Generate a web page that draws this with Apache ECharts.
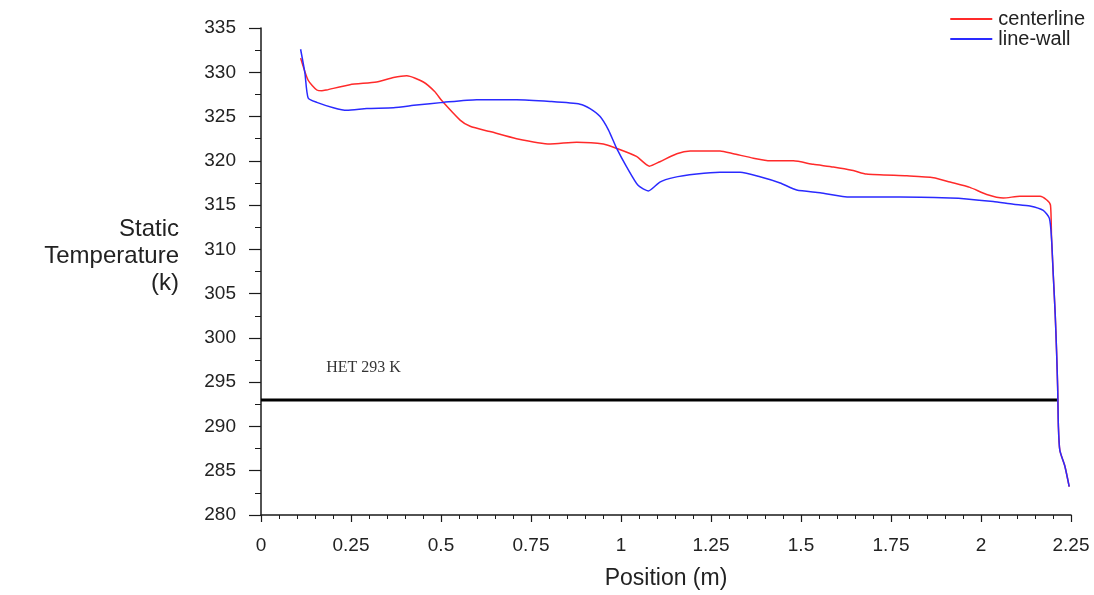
<!DOCTYPE html>
<html>
<head>
<meta charset="utf-8">
<title>Static Temperature</title>
<script src="https://cdn.jsdelivr.net/npm/echarts@6/dist/echarts.min.js"></script>
<style>
  html, body { margin: 0; padding: 0; background: #fff; }
  #chart { width: 1094px; height: 595px; }
</style>
</head>
<body>
<div id="chart"></div>
<script>
// Positions along the pipe (m) and static temperature (K) for each probe line
const centerlinePos = [0.110, 0.131, 0.155, 0.169, 0.182, 0.247, 0.321, 0.368, 0.405, 0.451, 0.483, 0.502, 0.553, 0.581, 0.636, 0.710, 0.803, 0.877, 0.951, 0.988, 1.043, 1.079, 1.108, 1.155, 1.192, 1.275, 1.312, 1.368, 1.414, 1.479, 1.534, 1.590, 1.645, 1.682, 1.794, 1.868, 1.914, 1.969, 2.016, 2.062, 2.108, 2.164, 2.182, 2.193, 2.196, 2.201, 2.206, 2.210, 2.213, 2.215, 2.219, 2.233, 2.245];
const centerlineTemp = [331.6, 329.1, 328.0, 327.9, 328.0, 328.6, 328.9, 329.4, 329.6, 328.9, 327.8, 326.8, 324.6, 323.9, 323.3, 322.5, 321.9, 322.1, 321.9, 321.4, 320.5, 319.4, 319.9, 320.8, 321.1, 321.1, 320.8, 320.3, 320.0, 320.0, 319.6, 319.3, 318.9, 318.5, 318.3, 318.1, 317.6, 317.0, 316.2, 315.8, 316.0, 316.0, 315.6, 315.0, 311.2, 306.9, 302.8, 298.4, 294.3, 290.0, 287.3, 285.5, 283.2];

const wallPos = [0.110, 0.122, 0.131, 0.155, 0.201, 0.238, 0.294, 0.368, 0.432, 0.506, 0.599, 0.710, 0.803, 0.886, 0.914, 0.942, 0.965, 0.988, 1.016, 1.048, 1.076, 1.108, 1.145, 1.210, 1.275, 1.331, 1.386, 1.442, 1.488, 1.553, 1.636, 1.775, 1.914, 1.960, 2.034, 2.090, 2.136, 2.173, 2.190, 2.196, 2.201, 2.206, 2.210, 2.213, 2.215, 2.219, 2.233, 2.245];
const wallTemp = [332.6, 329.9, 327.1, 326.6, 326.0, 325.7, 325.9, 326.0, 326.3, 326.6, 326.9, 326.9, 326.7, 326.4, 325.9, 325.0, 323.5, 321.4, 319.3, 317.2, 316.6, 317.6, 318.1, 318.5, 318.7, 318.7, 318.2, 317.5, 316.7, 316.4, 315.9, 315.9, 315.8, 315.7, 315.4, 315.1, 314.9, 314.4, 313.5, 311.2, 306.9, 302.8, 298.4, 294.3, 290.0, 287.3, 285.5, 283.2];

// Reference temperature line and its caption
const hetPos = [0, 2.211];
const hetTemp = [293, 293];
const hetLabel = 'HET 293 K';
const hetLabelAt = [0.285, 296.6];

const xTicks = { min: 0, max: 2.25, step: 0.25 };
const yTicks = { min: 280, max: 335, step: 5 };

const pairs = (xs, ys) => xs.map((x, i) => [x, ys[i]]);

const sans = 'Arial, "Liberation Sans", sans-serif';
const axisColor = '#1a1a1a';
const textColor = '#222';

const chart = echarts.init(document.getElementById('chart'), null, { renderer: 'canvas' });

chart.setOption({
  animation: false,
  backgroundColor: '#fff',
  grid: { left: 261, right: 23, top: 28, bottom: 80, containLabel: false },
  legend: {
    orient: 'vertical',
    right: 4,
    top: 4,
    itemWidth: 42,
    itemHeight: 2,
    itemGap: 0,
    icon: 'rect',
    data: ['centerline', 'line-wall'],
    textStyle: { fontFamily: sans, fontSize: 20, color: textColor, padding: [0, 0, 0, 1] }
  },
  xAxis: {
    type: 'value',
    min: xTicks.min,
    max: xTicks.max,
    interval: xTicks.step,
    name: 'Position (m)',
    nameLocation: 'middle',
    nameGap: 52,
    nameTextStyle: { fontFamily: sans, fontSize: 23, color: textColor },
    axisLine: { onZero: false, lineStyle: { color: axisColor, width: 1.5 } },
    axisTick: { show: true, length: 7, lineStyle: { color: axisColor, width: 1.2 } },
    minorTick: { show: true, splitNumber: 5, length: 4, lineStyle: { color: axisColor, width: 1 } },
    splitLine: { show: false },
    axisLabel: { margin: 21, fontFamily: sans, fontSize: 19, color: textColor }
  },
  yAxis: {
    type: 'value',
    min: yTicks.min,
    max: yTicks.max,
    interval: yTicks.step,
    axisLine: { show: true, onZero: false, lineStyle: { color: axisColor, width: 1.5 } },
    axisTick: { show: true, length: 12, lineStyle: { color: axisColor, width: 1.2 } },
    minorTick: { show: true, splitNumber: 2, length: 6, lineStyle: { color: axisColor, width: 1 } },
    splitLine: { show: false },
    axisLabel: { margin: 25, fontFamily: sans, fontSize: 19, color: textColor }
  },
  graphic: [{
    type: 'text',
    right: 915,
    top: 216,
    style: {
      text: 'Static\nTemperature\n(k)',
      fontFamily: sans,
      fontSize: 24,
      lineHeight: 27,
      fill: textColor,
      textAlign: 'right'
    }
  }],
  series: [
    {
      name: 'HET',
      type: 'line',
      data: pairs(hetPos, hetTemp),
      symbol: 'none',
      silent: true,
      lineStyle: { color: '#000', width: 3 }
    },
    {
      name: 'HET caption',
      type: 'scatter',
      data: [hetLabelAt],
      symbolSize: 1,
      silent: true,
      itemStyle: { color: 'rgba(0,0,0,0)' },
      label: {
        show: true,
        position: 'inside',
        formatter: hetLabel,
        fontFamily: '"Liberation Serif", "Times New Roman", serif',
        fontSize: 16,
        color: '#000'
      }
    },
    {
      name: 'centerline',
      type: 'line',
      data: pairs(centerlinePos, centerlineTemp),
      symbol: 'none',
      smooth: 0.2,
      itemStyle: { color: '#ff2a2a' },
      lineStyle: { color: '#ff2a2a', width: 1.5 }
    },
    {
      name: 'line-wall',
      type: 'line',
      data: pairs(wallPos, wallTemp),
      symbol: 'none',
      smooth: 0.2,
      itemStyle: { color: '#2a2aff' },
      lineStyle: { color: '#2a2aff', width: 1.5 }
    }
  ]
});
</script>
</body>
</html>
